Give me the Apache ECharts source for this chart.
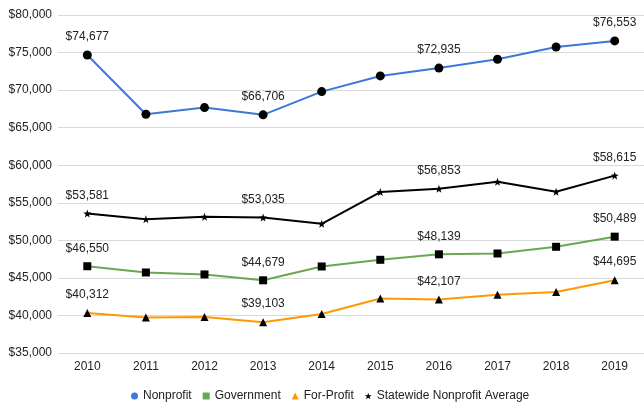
<!DOCTYPE html>
<html>
<head>
<meta charset="utf-8">
<script src="https://cdn.jsdelivr.net/npm/echarts@6/dist/echarts.min.js"></script>
<style>
  html, body { margin: 0; padding: 0; background: #fff; }
  #main { width: 644px; height: 404px; }
</style>
</head>
<body>
<div id="main"></div>
<script>
var years = ['2010', '2011', '2012', '2013', '2014', '2015', '2016', '2017', '2018', '2019'];

var nonprofit = [74677, 66790, 67670, 66706, 69800, 71890, 72935, 74110, 75740, 76553];
var government = [46550, 45720, 45460, 44679, 46520, 47410, 48139, 48250, 49140, 50489];
var forProfit = [40312, 39740, 39790, 39103, 40190, 42260, 42107, 42760, 43110, 44695];
var statewide = [53581, 52820, 53130, 53035, 52200, 56420, 56853, 57790, 56460, 58615];

// only these points get a value label
var labelled = [0, 3, 6, 9];

var FONT = 'Liberation Sans, Arial, sans-serif';
var STAR = 'path://M0,-10 L2.35,-3.24 9.51,-3.09 3.8,1.24 5.88,8.09 0,4 -5.88,8.09 -3.8,1.24 -9.51,-3.09 -2.35,-3.24Z';

function money(v) {
    return '$' + String(v).replace(/\B(?=(\d{3})+(?!\d))/g, ',');
}

var myChart = echarts.init(document.getElementById('main'));

function makeSeries(name, data, color, symbol, size) {
    return {
        name: name,
        type: 'line',
        data: data,
        symbol: symbol,
        symbolSize: size,
        showAllSymbol: true,
        lineStyle: { color: color, width: 2 },
        itemStyle: { color: '#000' },
        label: {
            show: true,
            position: 'top',
            distance: 8,
            color: '#222',
            fontSize: 12,
            fontFamily: FONT,
            formatter: function (p) {
                return labelled.indexOf(p.dataIndex) >= 0 ? money(p.value) : '';
            }
        },
        animation: false
    };
}

var option = {
    backgroundColor: '#fff',
    grid: { left: 58, right: -5, top: 15, bottom: 51 },
    legend: {
        top: 390,
        left: 131,
        padding: 0,
        itemWidth: 7,
        itemHeight: 7,
        itemGap: 11,
        textStyle: { color: '#222', fontSize: 12, fontFamily: FONT },
        data: [
            { name: 'Nonprofit', icon: 'circle', itemStyle: { color: '#3c78d8' } },
            { name: 'Government', icon: 'rect', itemStyle: { color: '#6aa84f' } },
            { name: 'For-Profit', icon: 'triangle', itemStyle: { color: '#ff9900' } },
            { name: 'Statewide Nonprofit Average', icon: STAR, itemStyle: { color: '#000' } }
        ]
    },
    xAxis: {
        type: 'category',
        data: years,
        axisLine: { show: false },
        axisTick: { show: false },
        axisLabel: { color: '#222', fontSize: 12, margin: 8, fontFamily: FONT }
    },
    yAxis: {
        type: 'value',
        min: 35000,
        max: 80000,
        interval: 5000,
        axisLine: { show: false },
        axisTick: { show: false },
        axisLabel: {
            color: '#222', fontSize: 12, margin: 6, fontFamily: FONT,
            formatter: function (v) { return money(v); }
        },
        splitLine: { lineStyle: { color: '#d9d9d9', width: 1 } }
    },
    series: [
        makeSeries('Nonprofit', nonprofit, '#3c78d8', 'circle', 9),
        makeSeries('Government', government, '#6aa84f', 'rect', 8),
        makeSeries('For-Profit', forProfit, '#ff9900', 'triangle', 8),
        makeSeries('Statewide Nonprofit Average', statewide, '#000', STAR, 8)
    ]
};

myChart.setOption(option);
</script>
</body>
</html>
